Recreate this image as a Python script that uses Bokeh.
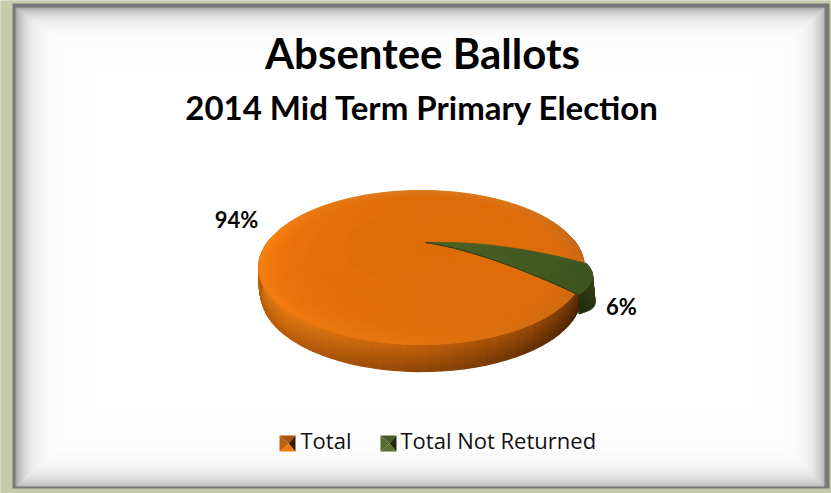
import numpy as np
from bokeh.core.properties import value
from bokeh.embed import file_html
from bokeh.models import Range1d
from bokeh.plotting import figure
from bokeh.resources import INLINE

# Chart content
title = "Absentee Ballots"
subtitle = "2014 Mid Term Primary Election"
series = ["Total", "Total Not Returned"]
shares = [94, 6]
label_texts = ["94%", "6%"]

W, H = 831, 493
p = figure(width=W, height=H, output_backend="svg", toolbar_location=None,
           x_range=Range1d(0, W), y_range=Range1d(H, 0), min_border=0,
           outline_line_color=None, background_fill_color="#C6CBAA",
           border_fill_color="#C6CBAA")
p.axis.visible = False
p.grid.visible = False


def hexc(c):
    c = np.clip(np.round(c), 0, 255).astype(int)
    return "#%02x%02x%02x" % tuple(c)


def rgb(s):
    return np.array([int(s[i:i + 2], 16) for i in (1, 3, 5)], float)


# Frame raster: sage surround, dark keyline, bevelled panel fading to white
def frame_raster():
    x0f, x1f, y0f, y1f = 15, 824, 7, 486
    yy, xx = np.mgrid[0:H, 0:W]
    xx, yy = xx + 0.5, yy + 0.5
    insets = np.array([78.0, 62.0, 72.0, 78.0])
    dark = np.array([88.0, 88.0, 72.0, 66.0])
    dist = np.stack([(xx - x0f) / insets[0], (yy - y0f) / insets[1],
                     (x1f - xx) / insets[2], (y1f - yy) / insets[3]])
    side = dist.argmin(axis=0)
    t = np.clip(dist.min(axis=0), 0, 1)
    f = 0.92 * (1 - t) ** 7 + 0.08 * (1 - t) ** 1.5
    g = 255 - dark[side] * f
    img = np.zeros((H, W, 4), dtype=np.uint8)
    img[..., 0] = img[..., 1] = img[..., 2] = np.clip(g, 0, 255).astype(np.uint8)
    img[..., 3] = 255
    key = (xx >= 12) & (xx < 829) & (yy >= 3) & (yy < 488)
    inner = (xx >= x0f) & (xx < x1f) & (yy >= y0f) & (yy < y1f)
    img[key & ~inner, :3] = (120, 120, 120)
    img[~key, :3] = (198, 203, 170)
    return img.view(np.uint32).reshape(H, W)


p.image_rgba(image=[frame_raster()], x=0, y=0, dw=W, dh=H)

# Perspective projection of the pie disc
PX, PY = 421.0, 242.0
A, BB, K = 154.0, 68.9, 0.325
DEPTH = 27.0


def project(r, deg):
    th = np.radians(deg)
    den = 1 + K * r * np.sin(th)
    return PX + A * r * np.cos(th) / den, PY - BB * r * np.sin(th) / den


# Angles of the two slices, taken from the shares
not_returned_start = -14.0
not_returned_end = not_returned_start - shares[1] * 3.6
total_sweep = shares[0] * 3.6

# Side wall of the large slice, front half only: one column per angle step
wall_ang = [180, 200, 230, 270, 300, 325, 345, 360]
wall_top = ["#C4640E", "#D8720F", "#E37C16", "#C4620C", "#9C4C08", "#6E3608", "#562905", "#4C2405"]
wall_low = ["#A85408", "#B45C0A", "#B85C0A", "#8E4606", "#683204", "#4A2403", "#3C1D02", "#361A02"]
wt = np.array([rgb(c) for c in wall_top])
wl = np.array([rgb(c) for c in wall_low])
bands = 14
step = 3.0
for b in range(bands):
    s0, s1 = b / bands, (b + 1) / bands
    xs, ys, cols = [], [], []
    for d in np.arange(176, 360, step):
        d1 = d + step
        mid = d + step / 2
        top_c = np.array([np.interp(mid, wall_ang, wt[:, j]) for j in range(3)])
        low_c = np.array([np.interp(mid, wall_ang, wl[:, j]) for j in range(3)])
        xa, ya = project(1.0, d)
        xb, yb = project(1.0, d1)
        # rounded lower lip: the wall pulls in near its foot
        pull0, pull1 = 3.0 * s0 ** 4, 3.0 * s1 ** 4
        sgn0, sgn1 = np.cos(np.radians(d)), np.cos(np.radians(d1))
        xs.append([xa - pull0 * sgn0, xb - pull0 * sgn1, xb - pull1 * sgn1, xa - pull1 * sgn0])
        ys.append([ya + DEPTH * s0, yb + DEPTH * s0, yb + DEPTH * s1, ya + DEPTH * s1])
        cols.append(hexc(top_c + (low_c - top_c) * (s0 + s1) / 2))
    p.patches(xs, ys, fill_color=cols, line_color=cols, line_width=1.2)


def top_colour(r, deg):
    # flat centre that brightens to the left and softens over the rim bevel
    th = np.radians(deg)
    base = rgb("#DF6C0A") + np.array([14, 7, 0]) * max(0.0, -np.cos(th)) * r ** 1.5
    rim_ang = [0, 45, 90, 135, 180, 225, 270, 315, 360]
    rim = ["#C9681A", "#D7781E", "#DB7A20", "#E07A16", "#F8820F", "#F27C10", "#E27510", "#CE6A10", "#C9681A"]
    rimc = np.array([np.interp(deg % 360, rim_ang, [rgb(c)[j] for c in rim]) for j in range(3)])
    w = np.clip((r - 0.80) / 0.20, 0, 1) ** 2
    return base + (rimc - base) * w


# Underlay disc that sits beneath both slices
arc = np.arange(0, 361, 2.0)
ax, ay = project(1.0, arc)
p.patch(ax, ay, fill_color="#DF6C0A", line_color="#DF6C0A", line_width=0.5)

# Large slice: polar grid of shaded cells
radii = np.array([0.0, 0.5, 0.72, 0.80, 0.84, 0.88, 0.91, 0.94, 0.97, 1.0])
xs, ys, cols = [], [], []
for d in np.arange(not_returned_start, not_returned_start + total_sweep, 4.0):
    d1 = min(d + 4.0, not_returned_start + total_sweep)
    for r0, r1 in zip(radii[:-1], radii[1:]):
        xa, ya = project(r0, d)
        xb, yb = project(r0, d1)
        xc, yc = project(r1, d1)
        xd, yd = project(r1, d)
        xs.append([xa, xb, xc, xd])
        ys.append([ya, yb, yc, yd])
        cols.append(hexc(top_colour((r0 + r1) / 2, (d + d1) / 2)))
p.patches(xs, ys, fill_color=cols, line_color=cols, line_width=0.8)


# Small slice, pulled slightly out of the pie
def slice_point(r, deg):
    t = (not_returned_start - deg) / (not_returned_start - not_returned_end)
    x, y = project(r, deg)
    x = x + 4.0 - 1.0 * r + 6.0 * np.sin(np.pi * t) * r ** 6
    y = y + 3.0 * r - 24.0 * r * (1 - r)
    return x, y


arc = np.linspace(not_returned_start, not_returned_end, 24)
rx, ry = slice_point(1.0, arc)

# slice wall below the rim, rounding out towards its foot
tt = np.linspace(0, 1, len(arc))
xs, ys, cols = [], [], []
for i in range(len(arc) - 1):
    for b in range(6):
        s0, s1 = b / 6, (b + 1) / 6
        sh0, sh1 = 3 * np.sin(np.pi * tt[i] ** 1.5), 3 * np.sin(np.pi * tt[i + 1] ** 1.5)
        dr0, dr1 = 19 + 5 * np.sin(np.pi * tt[i]), 19 + 5 * np.sin(np.pi * tt[i + 1])
        xs.append([rx[i] + sh0 * s0, rx[i + 1] + sh1 * s0, rx[i + 1] + sh1 * s1, rx[i] + sh0 * s1])
        ys.append([ry[i] + dr0 * s0, ry[i + 1] + dr1 * s0, ry[i + 1] + dr1 * s1, ry[i] + dr0 * s1])
        c = rgb("#3F5019") + (rgb("#25300E") - rgb("#3F5019")) * tt[i]
        cols.append(hexc(c * (1 - 0.15 * s0)))
p.patches(xs, ys, fill_color=cols, line_color=cols, line_width=1.0)

# slice top face, darkening towards the rim
slice_r = np.linspace(0, 1, 26)
for r0, r1 in zip(slice_r[:-1], slice_r[1:]):
    ox, oy = slice_point(r1, arc)
    ix, iy = slice_point(r0, arc)
    c = rgb("#4E6326") + (rgb("#3D5520") - rgb("#4E6326")) * ((r0 + r1) / 2)
    col = hexc(c)
    p.patch(np.r_[ox, ix[::-1]], np.r_[oy, iy[::-1]], fill_color=col, line_color=col, line_width=0.8)
ex, ey = slice_point(np.linspace(0, 1, 24), not_returned_end)
p.line(ex, ey, line_color="#2E3A14", line_width=1.0)

# Titles and data labels
bold = value("Lato")
p.text([422], [52], text=[title], text_font=bold, text_font_style="bold", text_font_size="42px",
       text_align="center", text_baseline="middle", text_color="#000000")
p.text([422], [106], text=[subtitle], text_font=bold, text_font_style="bold", text_font_size="33px",
       text_align="center", text_baseline="middle", text_color="#000000")
p.text([236, 621], [219, 306], text=label_texts, text_font=bold, text_font_style="bold",
       text_font_size="22px", text_align="center", text_baseline="middle", text_color="#000000")

# Legend with pyramid-shaded swatches
swatch_cols = [("#A8550F", "#F07A12", "#C0600F", "#3A1E04"),
               ("#4A5A28", "#5A7030", "#566A2C", "#1E2A0C")]
swatch_x = [279, 380]
text_x = [300, 400]
sz, sy = 16, 435
for sx, cc, name, tx in zip(swatch_x, swatch_cols, series, text_x):
    cx, cy = sx + sz * 0.58, sy + sz / 2
    top_c, bot_c, left_c, right_c = cc
    p.patch([sx, sx + sz, cx], [sy, sy, cy], fill_color=top_c, line_color=None)
    p.patch([sx, sx + sz, cx], [sy + sz, sy + sz, cy], fill_color=bot_c, line_color=None)
    p.patch([sx, sx, cx], [sy, sy + sz, cy], fill_color=left_c, line_color=None)
    p.patch([sx + sz, sx + sz, cx], [sy, sy + sz, cy], fill_color=right_c, line_color=None)
    p.text([tx], [439], text=[name], text_font=value("Open Sans"), text_font_size="22px",
           text_align="left", text_baseline="middle", text_color="#111111")

open("out.html", "w").write(file_html(p, INLINE))
